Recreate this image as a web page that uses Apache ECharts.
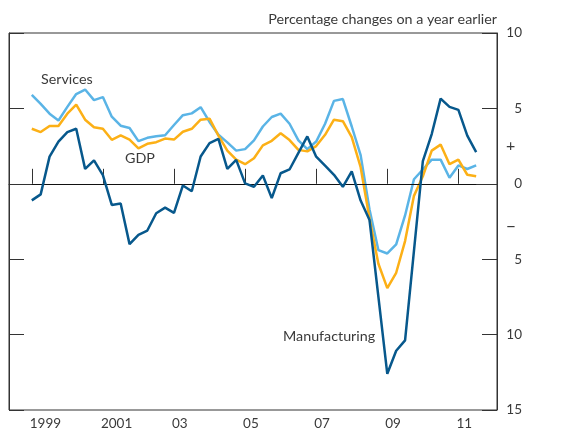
<!DOCTYPE html>
<html>
<head>
<meta charset="utf-8">
<script src="https://cdn.jsdelivr.net/npm/echarts@6/dist/echarts.min.js"></script>
<style>
html,body{margin:0;padding:0;background:#fff;}
#c{width:579px;height:432px;}
</style>
</head>
<body>
<div id="c"></div>
<script>
// Quarterly data, 1999 Q1 .. 2011 Q3 (percentage changes on a year earlier)
const startYear = 1999;
const services = [5.9,5.3,4.65,4.2,5.1,5.95,6.25,5.55,5.75,4.45,
  3.85,3.7,2.83,3.05,3.15,3.22,3.9,4.55,4.67,5.08,
  4.1,3.25,2.75,2.2,2.3,2.88,3.8,4.43,4.65,3.98,
  2.88,2.3,2.8,3.98,5.5,5.62,3.8,1.9,-1.7,-4.4,
  -4.62,-4.02,-2.1,0.3,0.95,1.6,1.6,0.4,1.22,0.98,1.22];
const gdp = [3.65,3.43,3.83,3.83,4.65,5.25,4.25,3.75,3.65,2.92,
  3.21,2.93,2.35,2.65,2.76,3.0,2.93,3.45,3.65,4.25,
  4.32,3.2,2.2,1.6,1.3,1.7,2.55,2.85,3.35,2.9,
  2.25,2.15,2.5,3.25,4.25,4.15,3.1,1.1,-2.3,-5.3,
  -6.92,-5.9,-3.8,-0.8,0.5,2.2,2.6,1.3,1.6,0.6,0.5];
const manufacturing = [-1.1,-0.7,1.8,2.8,3.43,3.65,0.99,1.55,0.58,-1.4,
  -1.3,-4.0,-3.38,-3.1,-1.95,-1.58,-1.93,-0.11,-0.49,1.81,
  2.7,2.98,0.99,1.59,0.03,-0.2,0.55,-0.95,0.7,0.95,
  2.05,3.14,1.8,1.2,0.6,-0.2,0.82,-1.11,-2.4,-7.5,
  -12.6,-11.07,-10.38,-4.45,1.5,3.3,5.65,5.1,4.9,3.2,2.1];
const tickYears = [1999,2001,2003,2005,2007,2009,2011];
const tickLabels = ['1999','2001','03','05','07','09','11'];

const toPairs = arr => arr.map((v,i)=>[startYear + i*0.25, v]);
const lastX = startYear + (services.length-1)*0.25;

const FONT = 'Lato';
const TXT = '#3a3a3a';
const LBL = '14.3px ' + FONT;
const chart = echarts.init(document.getElementById('c'), null, {renderer:'canvas'});
chart.setOption({
  animation:false,
  backgroundColor:'#fff',
  textStyle:{fontFamily:FONT},
  grid:{left:9,right:82,top:33,bottom:22,show:true,borderColor:'#333',borderWidth:1,backgroundColor:'transparent'},
  xAxis:{type:'value',min:1998.359,max:2012.086,
    axisLine:{show:true,lineStyle:{color:'#333',width:1}},
    splitLine:{show:false},
    axisTick:{show:true,inside:true,length:15,customValues:tickYears,lineStyle:{color:'#333',width:1}},
    axisLabel:{show:true,customValues:tickYears,align:'left',margin:7,color:TXT,fontSize:13.5,fontFamily:FONT,
      padding:[0,0,0,-2],
      formatter:v=>tickLabels[tickYears.indexOf(Math.round(v))] || ''}
  },
  yAxis:[
    {type:'value',position:'right',min:-15,max:10,interval:5,
      axisLine:{show:true,lineStyle:{color:'#333',width:1}},
      splitLine:{show:false},
      axisTick:{show:true,inside:true,length:15,lineStyle:{color:'#333',width:1}},
      axisLabel:{show:true,align:'right',margin:25,color:TXT,fontSize:13.5,fontFamily:FONT,
        formatter:v=>String(Math.abs(v))}
    },
    {type:'value',position:'left',min:-15,max:10,interval:5,
      axisLine:{show:true,lineStyle:{color:'#333',width:1}},
      splitLine:{show:false},
      axisTick:{show:true,inside:true,length:15,lineStyle:{color:'#333',width:1}},
      axisLabel:{show:false}
    }
  ],
  series:[
    {type:'line',name:'zero',data:[],z:1,silent:true,
      markLine:{silent:true,symbol:'none',label:{show:false},
        lineStyle:{color:'#111',width:1,type:'solid'},
        data:[[{coord:[startYear,0]},{coord:[lastX,0]}]]}},
    {type:'line',name:'Services',data:toPairs(services),showSymbol:false,symbol:'none',z:3,
      lineStyle:{color:'#5AB4E6',width:2.5},itemStyle:{color:'#5AB4E6'}},
    {type:'line',name:'GDP',data:toPairs(gdp),showSymbol:false,symbol:'none',z:4,
      lineStyle:{color:'#FCB016',width:2.5},itemStyle:{color:'#FCB016'}},
    {type:'line',name:'Manufacturing',data:toPairs(manufacturing),showSymbol:false,symbol:'none',z:5,
      lineStyle:{color:'#07588C',width:2.5},itemStyle:{color:'#07588C'}}
  ],
  graphic:[
    {type:'text',right:82,top:12,style:{text:'Percentage changes on a year earlier',fill:TXT,font:LBL}},
    {type:'text',left:41,top:72,style:{text:'Services',fill:TXT,font:LBL}},
    {type:'text',left:125,top:151,style:{text:'GDP',fill:TXT,font:LBL}},
    {type:'text',left:283,top:329,style:{text:'Manufacturing',fill:TXT,font:LBL}},
    {type:'text',left:506,top:138,style:{text:'+',fill:TXT,font:'16px '+FONT}},
    {type:'text',left:506,top:218,style:{text:'\u2212',fill:TXT,font:'17px '+FONT}}
  ]
});
</script>
</body>
</html>
